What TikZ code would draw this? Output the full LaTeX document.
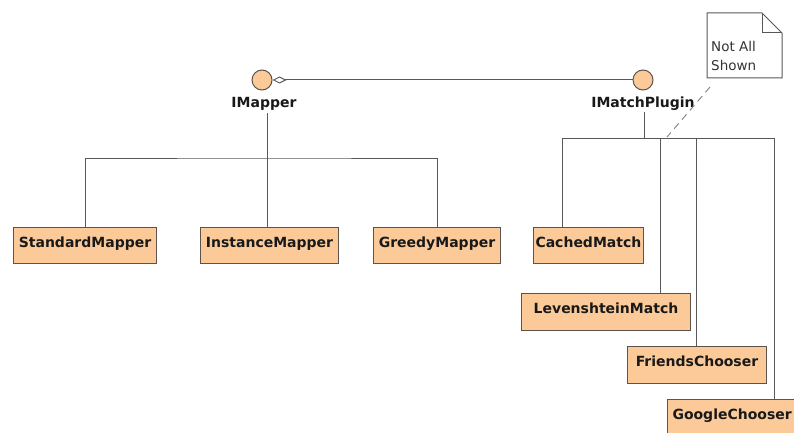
\documentclass[tikz,border=0pt]{standalone}
\usepackage{fontspec}
\setmainfont{DejaVu Sans}
\usetikzlibrary{arrows.meta}
\definecolor{peach}{RGB}{251,202,152}
\definecolor{boxedge}{RGB}{92,84,76}
\definecolor{wire}{RGB}{88,88,88}
\tikzset{
  cls/.style={draw=boxedge, fill=peach, line width=1pt, anchor=north west,
    inner xsep=0pt, inner ysep=0pt, text height=20pt, text depth=16pt,
    font=\fontsize{14}{16}\selectfont\bfseries, text=black!90},
  iface/.style={circle, draw=boxedge, fill=peach, line width=1pt,
    minimum size=20pt, inner sep=0pt},
  ifacelabel/.style={anchor=base, inner sep=2pt,
    font=\fontsize{14}{16}\selectfont\bfseries, text=black!90},
  wireline/.style={draw=wire, line width=1pt},
  notetext/.style={anchor=base west, inner sep=0pt,
    font=\fontsize{13.5}{16}\selectfont, text=black!80}
}
\begin{document}
\begin{tikzpicture}[x=1pt, y=-1pt]
  \clip (0,0) rectangle (794,433);
  \fill[white] (0,0) rectangle (794,433);

  % interfaces
  \node[iface] (im) at (262,80) {};
  \node[iface] (mp) at (643,80) {};
  \node[ifacelabel] (iml) at (264,108) {IMapper};
  \node[ifacelabel] (mpl) at (643,107) {IMatchPlugin};

  % association between the two interfaces
  \draw[wireline, {Diamond[open, length=14pt, width=7pt, line width=1pt]}-]
    (im.east) -- (mp.west);

  % implementing classes
  \node[cls, minimum width=143pt] (sm) at (13,227) {StandardMapper};
  \node[cls, minimum width=138pt] (inm) at (200,227) {InstanceMapper};
  \node[cls, minimum width=127pt] (gm) at (373,227) {GreedyMapper};
  \node[cls, inner xsep=2pt] (cm) at (533,227) {CachedMatch};
  \node[cls, minimum width=169pt, text depth=17pt] (lm) at (521,293) {LevenshteinMatch};
  \node[cls, minimum width=139pt, text depth=17pt] (fc) at (627,346) {FriendsChooser};
  \node[cls, inner xsep=5pt, text depth=20pt] (gc) at (667,399) {GoogleChooser};

  % IMapper realization tree
  \coordinate (lbus) at (267,158);
  \draw[wireline] (lbus |- iml.south) -- (lbus);
  \draw[wireline] (sm.north) |- (lbus) -| (gm.north);
  \draw[wireline] (lbus) -- (lbus |- inm.north);

  % IMatchPlugin realization tree
  \coordinate (rbus) at (644,138);
  \coordinate (t1) at (562,138);
  \coordinate (t2) at (660,138);
  \coordinate (t3) at (696,138);
  \coordinate (t4) at (774,138);
  \draw[wireline] (rbus |- mpl.south) -- (rbus);
  \draw[wireline] (t1) -- (t4);
  \draw[wireline] (t1) -- (t1 |- cm.north);
  \draw[wireline] (t2) -- (t2 |- lm.north);
  \draw[wireline] (t3) -- (t3 |- fc.north);
  \draw[wireline] (t4) -- (t4 |- gc.north);

  % note with folded corner
  \draw[draw=wire, fill=white, line width=1pt]
    (707,13) -- (762,13) -- (782,33) -- (782,78) -- (707,78) -- cycle;
  \draw[draw=wire, line width=1pt] (762,13) -- (762,33) -- (782,33);
  \node[notetext] (note1) at (711,52) {Not All};
  \node[notetext] (note2) at (711,71) {Shown};
  \coordinate (na) at (710,87);
  \coordinate (nb) at (667,137);
  \draw[draw=wire!70, line width=1pt, dash pattern=on 7pt off 5pt] (na) -- (nb);
\end{tikzpicture}
\end{document}
